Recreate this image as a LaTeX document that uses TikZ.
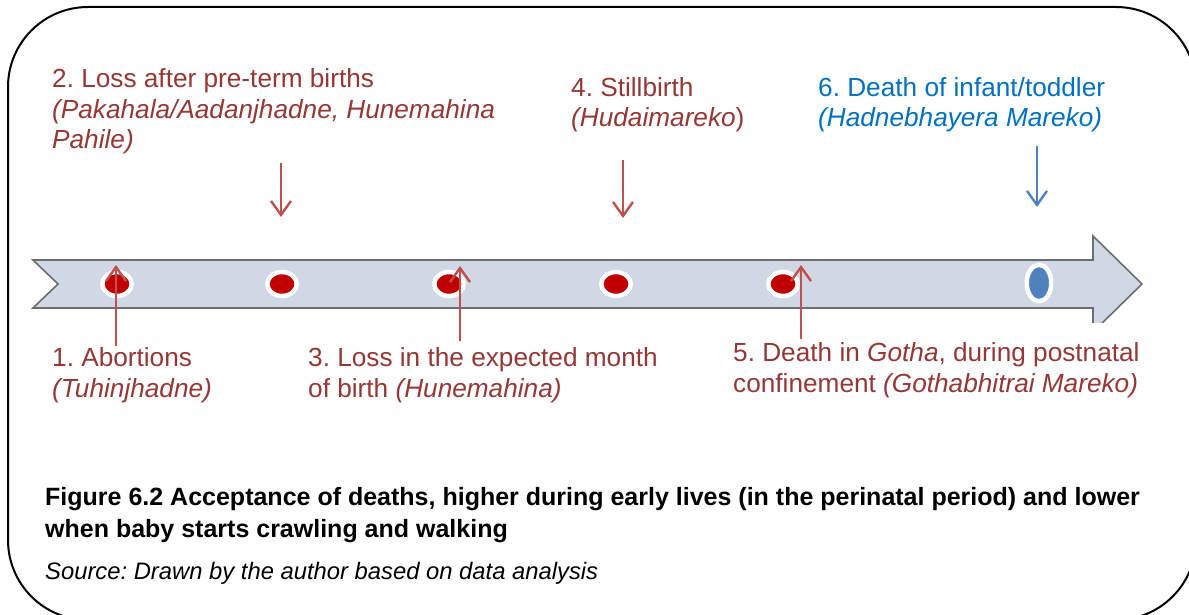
\documentclass[tikz,border=0pt]{standalone}
\usepackage{fontspec}
\setmainfont{Liberation Sans}
\usetikzlibrary{arrows.meta,shapes.geometric}
\definecolor{labelred}{HTML}{953735}
\definecolor{labelblue}{HTML}{0070C0}
\definecolor{arrowred}{HTML}{C0504D}
\definecolor{arrowblue}{HTML}{4F81BD}
\definecolor{dotred}{HTML}{C00000}
\definecolor{dotblue}{HTML}{4F81BD}
\definecolor{bandfill}{HTML}{D0D8E6}
\definecolor{bandedge}{HTML}{6E6E6E}
\frenchspacing
\begin{document}
\begin{tikzpicture}[x=1pt,y=-1pt,
  tlabel/.style={anchor=base west, inner sep=0pt, align=left,
    font=\fontsize{26.2}{30.5}\selectfont},
  redlabel/.style={tlabel, text=labelred},
  bluelabel/.style={tlabel, text=labelblue},
  pointer/.style={line width=2.4pt, line cap=butt,
    -{Straight Barb[length=14pt,width=20pt,line width=2.4pt]}},
  redpointer/.style={pointer, draw=arrowred},
  bluepointer/.style={pointer, draw=arrowblue},
  reddot/.style={ellipse, inner sep=0pt, minimum width=29.5pt,
    minimum height=24pt, fill=dotred, draw=white, line width=4.5pt},
  bluedot/.style={ellipse, inner sep=0pt, minimum width=24.5pt,
    minimum height=36.5pt, fill=dotblue, draw=white, line width=4.5pt},
]
\useasboundingbox (0,0) rectangle (1189,615);

% rounded outer frame, running off the right and bottom edges
\begin{scope}
  \clip (0,0) rectangle (1189,615);
  \draw[line width=2pt, rounded corners=80pt] (8,7) rectangle (1196,620);
\end{scope}

% timeline band with notched tail and arrow head
\begin{scope}
  \clip (0,0) rectangle (1189,322);
  \draw[fill=bandfill, draw=bandedge, line width=1.6pt, line join=miter]
    (33,260) -- (1093,260) -- (1093,236) -- (1142,284) -- (1093,332)
    -- (1093,308) -- (33,308) -- (58,284) -- cycle;
\end{scope}

% events on the timeline
\node[reddot] (d1) at (117,284) {};
\node[reddot] (d2) at (282,284) {};
\node[reddot] (d3) at (449,284) {};
\node[reddot] (d4) at (616,284) {};
\node[reddot] (d5) at (783,284) {};
\node[bluedot] (d6) at (1039,283) {};

% pointer end points
\coordinate (p1s) at (116,346); \coordinate (p1e) at (116,265);
\coordinate (p2s) at (281,163); \coordinate (p2e) at (281,217);
\coordinate (p3s) at (460,341); \coordinate (p3e) at (460,266);
\coordinate (p4s) at (623,160); \coordinate (p4e) at (623,218);
\coordinate (p5s) at (801,339); \coordinate (p5e) at (801,265);
\coordinate (p6s) at (1037,146); \coordinate (p6e) at (1037,207);

\draw[redpointer] (p1s) -- (p1e);
\draw[redpointer] (p2s) -- (p2e);
\draw[redpointer] (p3s) -- (p3e);
\draw[redpointer] (p4s) -- (p4e);
\draw[redpointer] (p5s) -- (p5e);
\draw[bluepointer] (p6s) -- (p6e);

% event labels (anchored at the baseline of the last line)
\node[redlabel] (t2) at (52,149) {2. Loss after pre-term births\\\textit{(Pakahala/Aadanjhadne, Hunemahina}\\\textit{Pahile)}};
\node[redlabel] (t4) at (571,127) {4. Stillbirth\\\textit{(Hudaimareko})};
\node[bluelabel] (t6) at (818,127) {6. Death of infant/toddler\\\textit{(Hadnebhayera Mareko)}};
\node[redlabel] (t1) at (52,397) {1. Abortions\\\textit{(Tuhinjhadne)}};
\node[redlabel] (t3) at (308,397) {3. Loss in the expected month\\of birth \textit{(Hunemahina)}};
\node[redlabel] (t5) at (733,392) {5. Death in \textit{Gotha}, during postnatal\\confinement \textit{(Gothabhitrai Mareko)}};

% caption and source
\node[anchor=base west, inner sep=0pt, align=left,
  font=\bfseries\fontsize{25}{32}\selectfont] (cap) at (45,537)
  {Figure 6.2 Acceptance of deaths, higher during early lives (in the perinatal period) and lower\\when baby starts crawling and walking};
\node[anchor=base west, inner sep=0pt,
  font=\itshape\fontsize{23.8}{26}\selectfont] (src) at (45,579)
  {Source: Drawn by the author based on data analysis};
\end{tikzpicture}
\end{document}
